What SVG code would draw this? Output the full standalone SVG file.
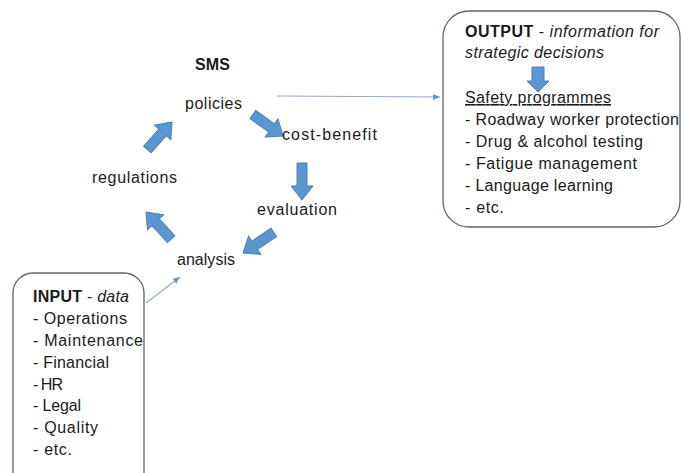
<svg xmlns="http://www.w3.org/2000/svg" width="681" height="473" viewBox="0 0 681 473">
<style>
text{font-family:"Liberation Sans",Arial,sans-serif;font-size:16px;fill:#1a1a1a}
.b{font-weight:bold}
.i{font-style:italic}
.box{fill:#fff;stroke:#5a6470;stroke-width:1.3}
.blk{fill:#5b96d0;stroke:#4a80b8;stroke-width:1}
.con{stroke:#94aac6;stroke-width:1.2;fill:none;marker-end:url(#ah)}
</style>
<defs>
<path id="blk" d="M0,0 L-14,-11 L-14,-5 L-37,-5 L-37,5 L-14,5 L-14,11 Z"/>
<marker id="ah" markerWidth="8" markerHeight="8" refX="7" refY="4" orient="auto" markerUnits="userSpaceOnUse">
<path d="M0,1 L7,4 L0,7 Z" fill="#6f95c6"/>
</marker>
</defs>
<rect width="681" height="473" fill="#fff"/>
<g id="connectors">
<line class="con" x1="277" y1="96" x2="440" y2="97"/>
<line class="con" x1="146" y1="303" x2="180" y2="277"/>
</g>
<g id="cycle-arrows">
<use href="#blk" class="blk" transform="translate(172,122) rotate(-48.2)"/>
<use href="#blk" class="blk" transform="translate(283,136) rotate(35.4)"/>
<use href="#blk" class="blk" transform="translate(302,200) rotate(90)"/>
<use href="#blk" class="blk" transform="translate(243,253) rotate(146.3)"/>
<use href="#blk" class="blk" transform="translate(146,212) rotate(-132.9)"/>
</g>
<g id="sms"><text x="195" y="70" class="b" textLength="35">SMS</text></g>
<g id="policies"><text x="185" y="109" textLength="57">policies</text></g>
<g id="cost-benefit"><text x="282" y="140" textLength="95">cost-benefit</text></g>
<g id="regulations"><text x="92" y="183" textLength="85">regulations</text></g>
<g id="evaluation"><text x="257" y="215" textLength="80">evaluation</text></g>
<g id="analysis"><text x="177" y="265" textLength="58">analysis</text></g>
<g id="output">
<rect class="box" x="443" y="11" width="237" height="216" rx="26"/>
<text x="465" y="37" textLength="194"><tspan class="b">OUTPUT</tspan> - <tspan class="i">information for</tspan></text>
<text x="465" y="58" class="i" textLength="139">strategic decisions</text>
<path class="blk" d="M538,92 L527,81 L532,81 L532,67 L544,67 L544,81 L549,81 Z"/>
<text x="465" y="103" textLength="146" text-decoration="underline">Safety programmes</text>
<text x="465" y="125" textLength="214">- Roadway worker protection</text>
<text x="465" y="147" textLength="178">- Drug &amp; alcohol testing</text>
<text x="465" y="169" textLength="172">- Fatigue management</text>
<text x="465" y="191" textLength="148">- Language learning</text>
<text x="465" y="213" textLength="39">- etc.</text>
</g>
<g id="input">
<rect class="box" x="13" y="273" width="131" height="222" rx="20"/>
<text x="33" y="302" textLength="96"><tspan class="b">INPUT</tspan> - <tspan class="i">data</tspan></text>
<text x="33" y="324" textLength="94">- Operations</text>
<text x="33" y="346" textLength="110">- Maintenance</text>
<text x="33" y="368" textLength="76">- Financial</text>
<text x="33" y="390" textLength="30">- HR</text>
<text x="33" y="411" textLength="48">- Legal</text>
<text x="33" y="433" textLength="65">- Quality</text>
<text x="33" y="455" textLength="39">- etc.</text>
</g>
</svg>
